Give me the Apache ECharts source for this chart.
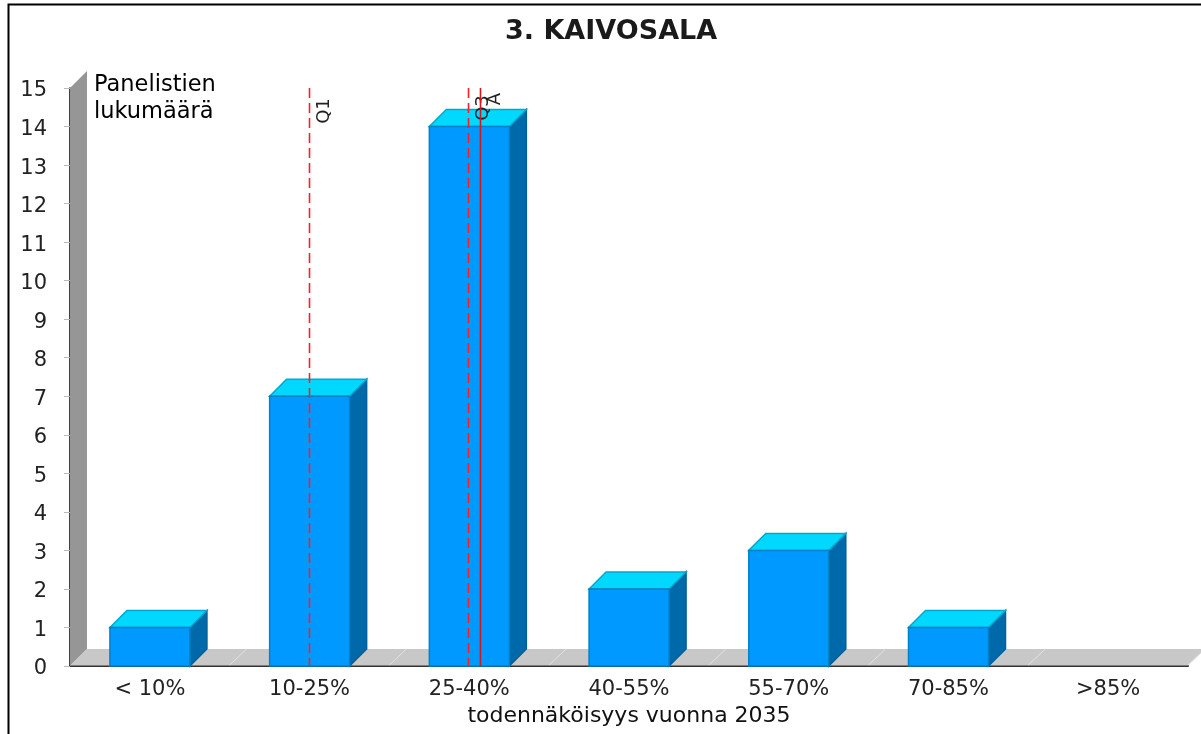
<!DOCTYPE html>
<html><head><meta charset="utf-8">
<style>html,body{margin:0;padding:0;background:#fff}#c{width:1201px;height:734px}</style>
<script src="https://cdn.jsdelivr.net/npm/echarts@6/dist/echarts.min.js"></script>
</head><body><div id="c"></div>
<script>
const categories = ['< 10%','10-25%','25-40%','40-55%','55-70%','70-85%','>85%'];
const counts = [1,7,14,2,3,1,0];
const yTicks = [0,1,2,3,4,5,6,7,8,9,10,11,12,13,14,15];
const refPositions = [1.5,2.495,2.57];
const refNames = ['Q1','Q3','A'];
const refDashed = [true,true,false];
const refLabelY = [111,108,99];
const DEPTH = 17;
const FONT = '"DejaVu Sans"';
const chart = echarts.init(document.getElementById('c'),null,{renderer:'canvas'});
function poly(points,fill,stroke){
  return {type:'polygon',shape:{points},style:{fill,stroke:stroke||fill,lineWidth:stroke?1.5:0}};
}
chart.setOption({
  animation:false,
  backgroundColor:'#fff',
  title:{text:'3. KAIVOSALA',left:500,top:13,
    textStyle:{fontFamily:FONT,fontWeight:'bold',fontSize:27,color:'#1a1a1a'}},
  graphic:[
    {type:'rect',z:100,shape:{x:8.5,y:4.5,width:1300,height:800},style:{fill:'none',stroke:'#000',lineWidth:2}},
    {type:'text',z:100,x:94,y:71,style:{text:'Panelistien\nlukumäärä',font:'22.5px '+FONT,fill:'#000',lineHeight:27.5}}
  ],
  grid:{left:70,right:13,top:88,bottom:68,containLabel:false},
  xAxis:[{type:'category',data:categories,boundaryGap:true,
      axisLine:{lineStyle:{color:'#333',width:2}},
      axisTick:{alignWithLabel:false,length:7,lineStyle:{color:'#bbb'}},
      axisLabel:{margin:13,fontFamily:FONT,fontSize:21,color:'#222',interval:0},
      name:'todennäköisyys vuonna 2035',nameLocation:'middle',nameGap:37,
      nameTextStyle:{fontFamily:FONT,fontSize:22,color:'#111'},
      splitLine:{show:false}},
    {type:'value',min:0,max:7,show:false}],
  yAxis:{type:'value',min:yTicks[0],max:yTicks[yTicks.length-1],interval:1,offset:8,
      axisLine:{show:true,lineStyle:{color:'#000',width:1.5}},
      axisTick:{show:true,length:6,lineStyle:{color:'#bbb'}},
      axisLabel:{margin:15,fontFamily:FONT,fontSize:21,color:'#222',verticalAlign:'top',lineHeight:6},
      splitLine:{show:false}},
  series:[
    {type:'custom',name:'floor',xAxisIndex:1,yAxisIndex:0,z:1,silent:true,data:[[0,0]],
     renderItem(p,api){
       const a=api.coord([0,0]),b=api.coord([7,0]),t=api.coord([0,15]);
       const kids=[
         poly([[a[0],t[1]],[a[0]+DEPTH,t[1]-DEPTH],[a[0]+DEPTH,a[1]-DEPTH],[a[0],a[1]]],'#969696'),
         poly([[a[0],a[1]-0.5],[a[0]+DEPTH,a[1]-DEPTH],[b[0]+DEPTH,a[1]-DEPTH],[b[0],a[1]-0.5]],'#C8C8C8')
       ];
       for(let i=1;i<=7;i++){
         const x=api.coord([i,0])[0];
         kids.push({type:'line',shape:{x1:x,y1:a[1]-1,x2:x+DEPTH,y2:a[1]-DEPTH},style:{stroke:'#E2E2E2',lineWidth:1}});
       }
       return {type:'group',children:kids};
     }},
    {type:'custom',name:'Panelistien lukumäärä',xAxisIndex:0,yAxisIndex:0,z:3,
     data:counts.map((v,i)=>[i,v]),
     renderItem(p,api){
       const v=api.value(1); if(!v) return {type:'group',children:[]};
       const c=api.coord([api.value(0),v]),z=api.coord([api.value(0),0]);
       const w=api.size([1,0])[0]*0.5;
       const l=c[0]-w/2,r=l+80,t=c[1],b=z[1];
       return {type:'group',children:[
         poly([[r,t],[r+DEPTH,t-DEPTH],[r+DEPTH,b-DEPTH],[r,b]],'#0069AA','#00609C'),
         poly([[l,t],[l+DEPTH,t-DEPTH],[r+DEPTH,t-DEPTH],[r,t]],'#00D8FF','#00A8CC'),
         poly([[l,t],[r,t],[r,b],[l,b]],'#0099FF','#0080C8')
       ]};
     }},
    {type:'custom',name:'refs',xAxisIndex:1,yAxisIndex:0,z:5,silent:true,
     data:refPositions.map((x,i)=>[x,i]),
     renderItem(p,api){
       const i=api.value(1),x=Math.floor(api.coord([api.value(0),0])[0])+0.5;
       const t=api.coord([0,15])[1],b=api.coord([0,0])[1];
       return {type:'group',children:[
         {type:'line',shape:{x1:x,y1:t,x2:x,y2:b},
          style:{stroke:refDashed[i]?'#FF1E28':'#D8141E',lineWidth:1.6,lineDash:refDashed[i]?[10,5]:null}},
         {type:'text',x:x+15,y:refLabelY[i],rotation:Math.PI/2,
          style:{text:refNames[i],font:'18px '+FONT,fill:'#222',align:'center',verticalAlign:'middle'}}
       ]};
     }}
  ]
});
</script></body></html>
